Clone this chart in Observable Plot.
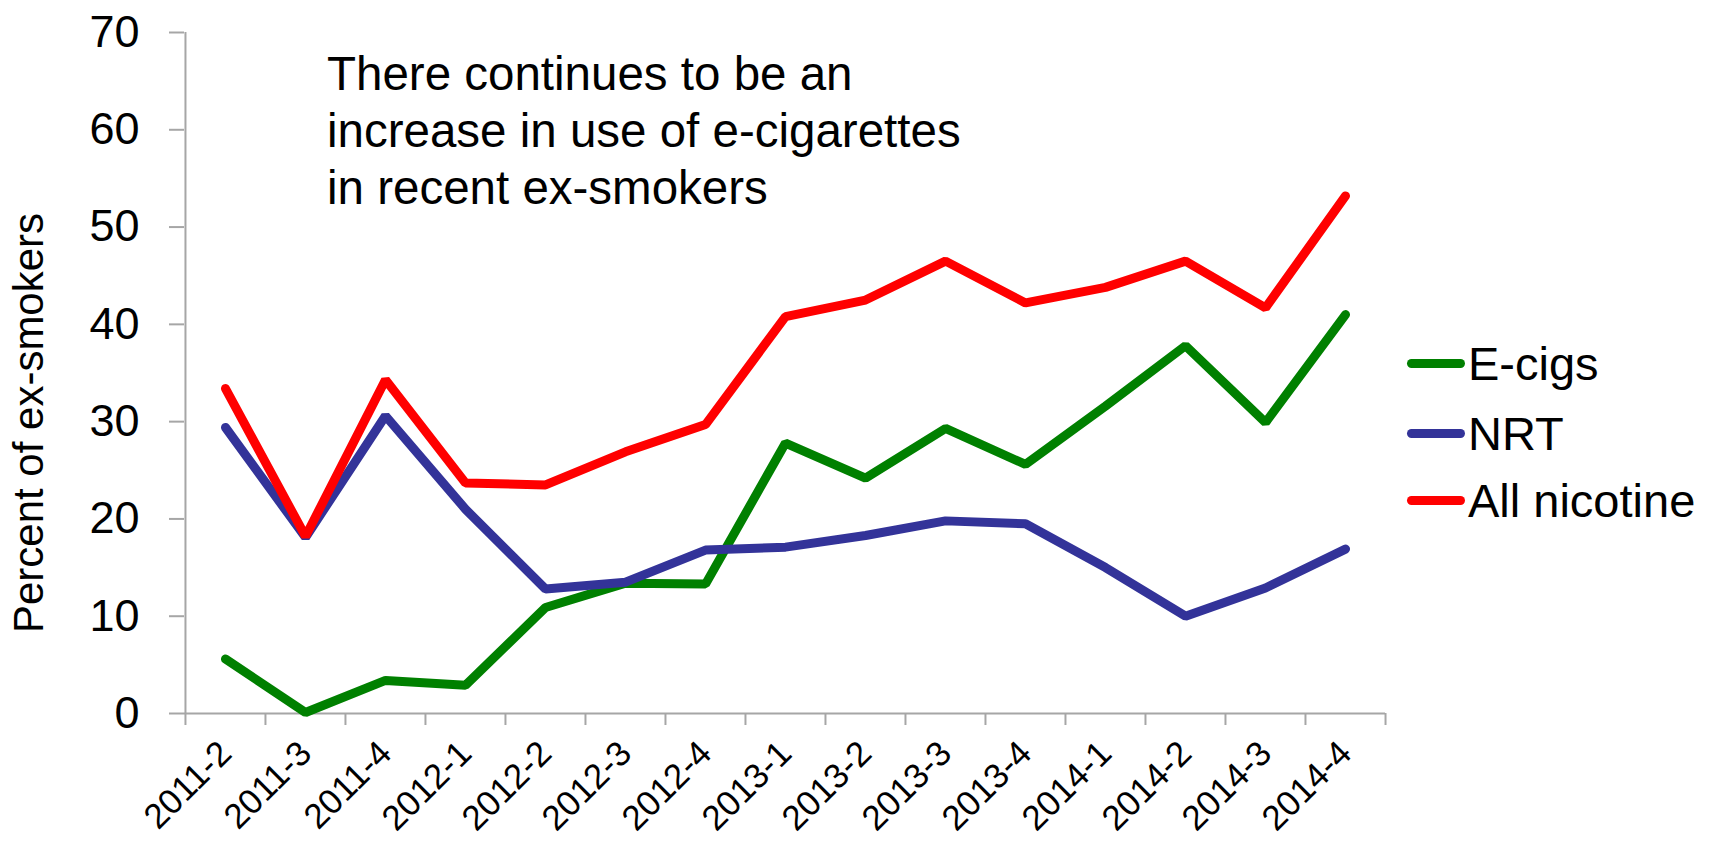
<!DOCTYPE html>
<html>
<head>
<meta charset="utf-8">
<script src="https://cdn.jsdelivr.net/npm/d3@7"></script>
<script src="https://cdn.jsdelivr.net/npm/@observablehq/plot@0.6"></script>
<style>
  html, body { margin: 0; padding: 0; background: #fff; }
  #wrap { position: relative; width: 1713px; height: 843px; font-family: "Liberation Sans", Arial, sans-serif; color: #000; }
  #chart { position: absolute; left: 0; top: 0; }
  #note { position: absolute; left: 327px; top: 45px; font-size: 47.5px; line-height: 57px; white-space: nowrap; }
  #ytitle { position: absolute; left: 29px; top: 423px; transform: translate(-50%, -50%) rotate(-90deg); font-size: 42px; white-space: nowrap; }
  .leg { position: absolute; left: 1407px; height: 54px; display: flex; align-items: center; font-size: 47px; white-space: nowrap; }
  .leg .sw { width: 58px; height: 9px; border-radius: 5px; margin-right: 3px; }
</style>
</head>
<body>
<div id="wrap">
  <div id="chart"></div>
  <div id="note"></div>
  <div id="ytitle"></div>
  <div id="legendBox"></div>
</div>
<script>
const quarters = ["2011-2","2011-3","2011-4","2012-1","2012-2","2012-3","2012-4","2013-1","2013-2","2013-3","2013-4","2014-1","2014-2","2014-3","2014-4"];
const seriesNames = ["E-cigs", "NRT", "All nicotine"];
const seriesColors = ["#008000", "#333399", "#ff0000"];
const ecigs   = [5.6, 0.1, 3.4, 2.9, 10.9, 13.4, 13.3, 27.8, 24.2, 29.3, 25.6, 31.6, 37.8, 29.9, 41.0];
const nrt     = [29.4, 18.1, 30.6, 21.0, 12.8, 13.5, 16.8, 17.1, 18.3, 19.8, 19.5, 15.0, 10.0, 12.9, 16.9];
const allNic  = [33.4, 18.2, 34.3, 23.7, 23.5, 26.9, 29.7, 40.8, 42.5, 46.5, 42.2, 43.8, 46.5, 41.7, 53.2];
const yTicks = [0, 10, 20, 30, 40, 50, 60, 70];
const noteLines = ["There continues to be an", "increase in use of e-cigarettes", "in recent ex-smokers"];
const yTitle = "Percent of ex-smokers";

const seriesValues = [ecigs, nrt, allNic];
const data = [];
seriesNames.forEach((s, k) => quarters.forEach((q, i) => data.push({series: s, quarter: q, value: seriesValues[k][i]})));

const W = 1713, H = 843, mL = 184, mR = 328, mT = 32, mB = 130;
const bw = (W - mL - mR) / quarters.length;
const axisGray = "#a6a6a6";

const chart = Plot.plot({
  width: W, height: H,
  marginLeft: mL, marginRight: mR, marginTop: mT, marginBottom: mB,
  style: {fontFamily: "'Liberation Sans', Arial, sans-serif", background: "white", color: "black", overflow: "visible"},
  x: {type: "band", domain: quarters, paddingInner: 0, paddingOuter: 0, label: null},
  y: {domain: [0, 70], label: null},
  color: {domain: seriesNames, range: seriesColors},
  marks: [
    Plot.axisY({ticks: yTicks, tickSize: 15, tickPadding: 30, fontSize: 45, stroke: axisGray, strokeWidth: 2, fill: "black", label: null}),
    Plot.axisX({tickSize: 0, tickRotate: -45, tickPadding: 34, fontSize: 35, fill: "black", label: null}),
    Plot.ruleY([0], {stroke: axisGray, strokeWidth: 2}),
    Plot.ruleX([quarters[0]], {dx: -bw / 2, y1: 0, y2: 70, stroke: axisGray, strokeWidth: 2}),
    Plot.ruleX(quarters, {dx: -bw / 2, y1: 0, y2: 0, insetBottom: -12, stroke: axisGray, strokeWidth: 2}),
    Plot.ruleX([quarters[quarters.length - 1]], {dx: bw / 2, y1: 0, y2: 0, insetBottom: -12, stroke: axisGray, strokeWidth: 2}),
    Plot.lineY(data, {x: "quarter", y: "value", z: "series", stroke: "series", strokeWidth: 9, strokeLinecap: "round", strokeLinejoin: "miter"})
  ]
});
document.getElementById("chart").appendChild(chart);

document.getElementById("note").innerHTML = noteLines.join("<br>");
document.getElementById("ytitle").textContent = yTitle;

const legendTops = [336, 406, 473];
const lb = document.getElementById("legendBox");
seriesNames.forEach((s, k) => {
  const d = document.createElement("div");
  d.className = "leg";
  d.style.top = legendTops[k] + "px";
  const sw = document.createElement("span");
  sw.className = "sw";
  sw.style.background = seriesColors[k];
  const t = document.createElement("span");
  t.textContent = s;
  d.appendChild(sw); d.appendChild(t);
  lb.appendChild(d);
});
</script>
</body>
</html>
